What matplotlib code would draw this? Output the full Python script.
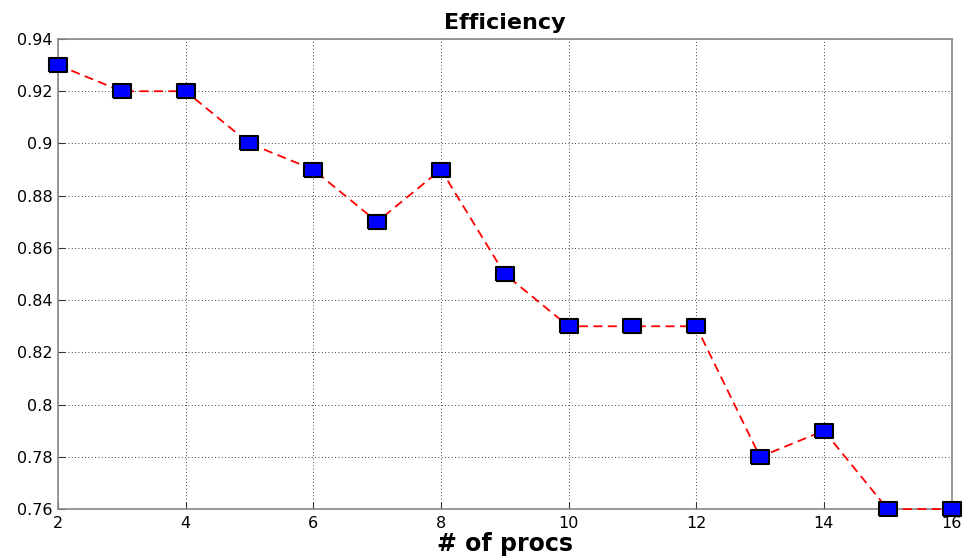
import numpy as np
import matplotlib
matplotlib.use("Agg")
import matplotlib.pyplot as plt

procs = [2, 3, 4, 5, 6, 7, 8, 9, 10, 11, 12, 13, 14, 15, 16]
efficiency = [0.93, 0.92, 0.92, 0.90, 0.89, 0.87, 0.89, 0.85, 0.83, 0.83, 0.83, 0.78, 0.79, 0.76, 0.76]
ytick_vals = [0.76, 0.78, 0.80, 0.82, 0.84, 0.86, 0.88, 0.90, 0.92, 0.94]
ytick_text = ['0.76', '0.78', '0.8', '0.82', '0.84', '0.86', '0.88', '0.9', '0.92', '0.94']

plt.rcParams['font.family'] = ['DejaVu Sans']

fig = plt.figure(figsize=(9.66, 5.57), dpi=100)
ax = fig.add_axes([0.060, 0.086, 0.925, 0.844])

# wide box marker like the stretched matlab squares
box = [(-1.3, -1), (1.3, -1), (1.3, 1), (-1.3, 1), (-1.3, -1)]
ax.plot(procs, efficiency, '--', color='red', lw=1.3, dashes=(5, 3),
        marker=box, markersize=13, markerfacecolor='blue',
        markeredgecolor='black', markeredgewidth=1.5, clip_on=False, zorder=3)

ax.set_xlim(2, 16)
ax.set_ylim(0.76, 0.94)
ax.set_xticks(np.arange(2, 17, 2))
ax.set_yticks(ytick_vals)
ax.set_yticklabels(ytick_text)
ax.grid(True, linestyle=(0, (1, 3)), color='black', lw=0.6)
ax.tick_params(direction='in', labelsize=11.5, length=5, color='#333333')
ax.tick_params(axis='x', pad=5)
ax.tick_params(axis='y', pad=4)
for s in ax.spines.values():
    s.set_color('#888888')
    s.set_linewidth(1.2)

ax.set_title('Efficiency', fontsize=16, fontweight='bold', pad=7)
ax.set_xlabel('# of procs', fontsize=17, fontweight='bold', labelpad=1)

fig.savefig('out.png', dpi=100)
